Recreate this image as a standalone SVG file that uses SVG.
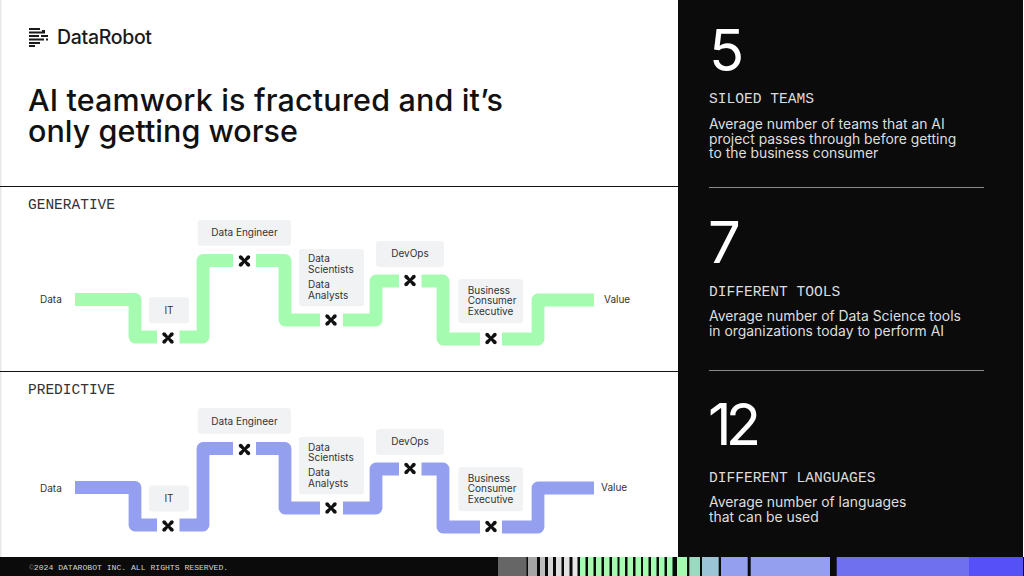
<svg xmlns="http://www.w3.org/2000/svg" width="1024" height="576" viewBox="0 0 1024 576">
<style>
.s{font-family:"Inter","Liberation Sans",sans-serif}
.m{font-family:"Liberation Mono","DejaVu Sans Mono",monospace}
.t{font-size:30.500px;fill:#111;font-weight:500}
.h{font-size:14.500px;fill:#333}
.hw{font-size:14.600px;fill:#dcdcdc}
.c{font-size:10px;fill:#333}
.b{font-size:13.900px;fill:#dedede}
.n{font-size:58px;fill:#fff}
.card{fill:#f1f2f4}
.pipe{fill:none;stroke-width:12.800;stroke-linejoin:round}
.g{stroke:#a5fbaf}
.p{stroke:#949ff0}
.sep{stroke:#111;stroke-width:1}
.div{stroke:#8a8a8a;stroke-width:1}
.k{fill:#0b0b0b}
</style>
<defs>
<path id="x" d="M-5.800-4.400-4.400-5.800-2.500-5.300 0-2.100 2.500-5.300 4.400-5.800 5.800-4.400 5.300-2.500 2.100 0 5.300 2.500 5.800 4.400 4.400 5.800 2.500 5.300 0 2.100-2.500 5.300-4.400 5.800-5.800 4.400-5.300 2.500-2.100 0-5.300-2.500Z" fill="#111"/>
</defs>
<rect width="1024" height="576" fill="#fff"/>
<rect x="0" y="0" width="1.500" height="576" fill="#e8e8e8"/>
<rect x="678" y="0" width="345" height="576" class="k"/>

<g id="logo">
<g fill="#1a1a1a">
<rect x="29" y="28" width="11" height="2"/><rect x="29" y="31.500" width="16" height="2"/><rect x="29" y="35" width="10" height="2"/><rect x="29" y="38.500" width="15" height="2"/><rect x="29" y="42" width="11" height="2"/><rect x="29" y="45" width="6" height="2"/>
<rect x="42" y="30" width="3" height="2"/><rect x="41" y="35" width="7" height="2"/><rect x="46" y="38.500" width="2" height="2"/>
</g>
<text x="57" y="44" class="s" font-size="19.500" font-weight="500" fill="#1a1a1a" textLength="95">DataRobot</text>
</g>
<g id="title">
<text x="28" y="110.500" class="s t" textLength="475">AI teamwork is fractured and it’s</text>
<text x="28" y="142" class="s t" textLength="270">only getting worse</text>
</g>
<line x1="0" y1="186.500" x2="678" y2="186.500" class="sep"/>
<line x1="0" y1="371.500" x2="678" y2="371.500" class="sep"/>
<text x="28" y="209" class="m h">GENERATIVE</text>
<text x="28" y="393.500" class="m h">PREDICTIVE</text>

<g id="connectors">
<g class="pipe g">
<path d="M75 299.500H135V337H157"/>
<path d="M179.500 337H203V260.500H233"/>
<path d="M256 260.500H285V320H320"/>
<path d="M343 320H376V281H399"/>
<path d="M421.500 281H443V339H480"/>
<path d="M502 339H538V300H594"/>
</g>
<g class="pipe p" transform="translate(0 188)">
<path d="M75 299.500H135V337H157"/>
<path d="M179.500 337H203V260.500H233"/>
<path d="M256 260.500H285V320H320"/>
<path d="M343 320H376V281H399"/>
<path d="M421.500 281H443V339H480"/>
<path d="M502 339H538V300H594"/>
</g>
</g>

<g id="gen-data"><text x="40" y="303" class="s c">Data</text></g>
<g id="gen-it"><rect x="149" y="297.300" width="40" height="26" rx="3" class="card"/><text x="169" y="313.500" class="s c" text-anchor="middle">IT</text><use href="#x" x="168" y="338"/></g>
<g id="gen-engineer"><rect x="197.700" y="220" width="93.300" height="25.700" rx="3" class="card"/><text x="244.500" y="236" class="s c" text-anchor="middle">Data Engineer</text><use href="#x" x="244.500" y="261"/></g>
<g id="gen-scientists"><rect x="299" y="249" width="65" height="57.300" rx="3" class="card"/><text class="s c"><tspan x="308" y="262">Data</tspan><tspan x="308" y="272.800">Scientists</tspan><tspan x="308" y="287.800">Data</tspan><tspan x="308" y="298.500">Analysts</tspan></text><use href="#x" x="331" y="320"/></g>
<g id="gen-devops"><rect x="376" y="241" width="68" height="26" rx="3" class="card"/><text x="410" y="257" class="s c" text-anchor="middle">DevOps</text><use href="#x" x="410" y="280.500"/></g>
<g id="gen-business"><rect x="458.300" y="279" width="64.700" height="44.300" rx="3" class="card"/><text class="s c"><tspan x="467.700" y="293.500">Business</tspan><tspan x="467.700" y="304.200">Consumer</tspan><tspan x="467.700" y="315">Executive</tspan></text><use href="#x" x="491" y="338.500"/></g>
<g id="gen-value"><text x="604" y="302.500" class="s c">Value</text></g>

<g id="pre-data"><text x="40" y="491.500" class="s c">Data</text></g>
<g id="pre-it"><rect x="149" y="485.500" width="40" height="26" rx="3" class="card"/><text x="169" y="501.500" class="s c" text-anchor="middle">IT</text><use href="#x" x="168" y="526"/></g>
<g id="pre-engineer"><rect x="197.700" y="408" width="93.300" height="25.700" rx="3" class="card"/><text x="244.500" y="424.500" class="s c" text-anchor="middle">Data Engineer</text><use href="#x" x="244.500" y="449.500"/></g>
<g id="pre-scientists"><rect x="299" y="437" width="65" height="57.300" rx="3" class="card"/><text class="s c"><tspan x="308" y="450.500">Data</tspan><tspan x="308" y="461.300">Scientists</tspan><tspan x="308" y="476">Data</tspan><tspan x="308" y="486.800">Analysts</tspan></text><use href="#x" x="331" y="508"/></g>
<g id="pre-devops"><rect x="376" y="429" width="68" height="26" rx="3" class="card"/><text x="410" y="445" class="s c" text-anchor="middle">DevOps</text><use href="#x" x="410" y="468.500"/></g>
<g id="pre-business"><rect x="458.300" y="467" width="64.700" height="44.300" rx="3" class="card"/><text class="s c"><tspan x="467.700" y="481.500">Business</tspan><tspan x="467.700" y="492.200">Consumer</tspan><tspan x="467.700" y="503">Executive</tspan></text><use href="#x" x="491" y="526.500"/></g>
<g id="pre-value"><text x="601" y="491" class="s c">Value</text></g>

<g id="stat-teams">
<text x="709" y="71" class="s n">5</text>
<text x="709" y="103" class="m hw">SILOED TEAMS</text>
<text class="s b"><tspan x="709" y="129">Average number of teams that an AI</tspan><tspan x="709" y="143.500">project passes through before getting</tspan><tspan x="709" y="158">to the business consumer</tspan></text>
</g>
<line x1="709" y1="187.500" x2="984" y2="187.500" class="div"/>
<g id="stat-tools">
<text x="708" y="263" class="s n">7</text>
<text x="709" y="296" class="m hw">DIFFERENT TOOLS</text>
<text class="s b"><tspan x="709" y="321">Average number of Data Science tools</tspan><tspan x="709" y="335.500">in organizations today to perform AI</tspan></text>
</g>
<line x1="709" y1="370.500" x2="984" y2="370.500" class="div"/>
<g id="stat-languages">
<text x="708" y="445" class="s n" textLength="53">12</text>
<text x="709" y="482" class="m hw">DIFFERENT LANGUAGES</text>
<text class="s b"><tspan x="709" y="507">Average number of languages</tspan><tspan x="709" y="521.500">that can be used</tspan></text>
</g>

<g id="footer">
<rect x="0" y="557" width="1024" height="19" class="k"/>
<text x="29" y="569.500" class="m" font-size="8.100" fill="#d4d4d4"><tspan fill="#666">©</tspan>2024 DATAROBOT INC. ALL RIGHTS RESERVED.</text>
<rect x="498" y="557" width="28.500" height="19" fill="#666"/>
<rect x="528" y="557" width="9" height="19" fill="#a5a5a5"/>
<rect x="540" y="557" width="5" height="19" fill="#bdbdbd"/>
<rect x="548" y="557" width="5" height="19" fill="#d6d6d6"/>
<rect x="556" y="557" width="5.500" height="19" fill="#e0e0e0"/>
<rect x="564" y="557" width="5.500" height="19" fill="#e3e3e3"/>
<rect x="572.500" y="557" width="5" height="19" fill="#e8e8e8"/>
<g fill="#a5fbaf">
<rect x="580" y="557" width="5.500" height="19"/><rect x="588" y="557" width="5.500" height="19"/><rect x="596" y="557" width="5.500" height="19"/><rect x="604" y="557" width="5.500" height="19"/><rect x="612" y="557" width="5.500" height="19"/><rect x="619.500" y="557" width="5.500" height="19"/><rect x="627.500" y="557" width="5.500" height="19"/><rect x="635.500" y="557" width="5.500" height="19"/><rect x="643" y="557" width="5.500" height="19"/><rect x="651" y="557" width="5.500" height="19"/><rect x="659" y="557" width="5.500" height="19"/><rect x="667" y="557" width="5.500" height="19"/><rect x="677" y="557" width="10" height="19"/>
</g>
<rect x="689.300" y="557" width="10.700" height="19" fill="#9bd9c0"/>
<rect x="702" y="557" width="16.700" height="19" fill="#9bc4d6"/>
<rect x="721" y="557" width="26.700" height="19" fill="#949ff0"/>
<rect x="750.700" y="557" width="79.300" height="19" fill="#949ff0"/>
<rect x="836.700" y="557" width="132.300" height="19" fill="#6e70f0"/>
<rect x="969" y="557" width="54" height="19" fill="#5650f8"/>
</g>
</svg>
